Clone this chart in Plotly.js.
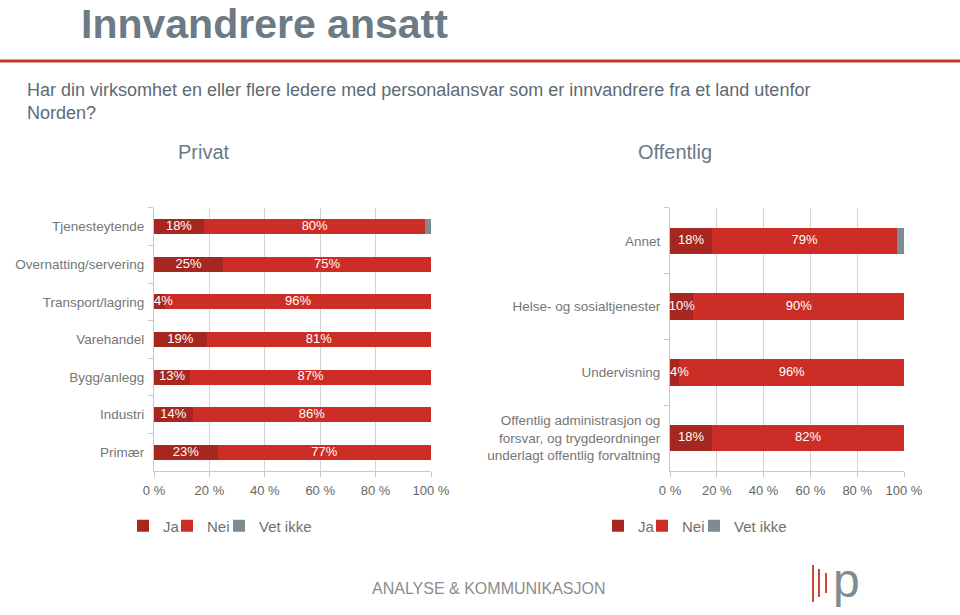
<!DOCTYPE html>
<html>
<head>
<meta charset="utf-8">
<script src="https://cdn.plot.ly/plotly-3.0.1.min.js"></script>
<style>html,body{margin:0;padding:0;background:#fff;}#chart{width:960px;height:615px;}</style>
</head>
<body>
<div id="chart"></div>
<script>
// ---- data ----
var privatCats = ['Tjenesteytende','Overnatting/servering','Transport/lagring','Varehandel','Bygg/anlegg','Industri','Primær'];
var privatJa  = [18,25,4,19,13,14,23];
var privatNei = [80,75,96,81,87,86,77];
var privatVet = [2,0,0,0,0,0,0];

var offCats = ['Annet','Helse- og sosialtjenester','Undervisning','Offentlig administrasjon og<br>forsvar, og trygdeordninger<br>underlagt offentlig forvaltning'];
var offJa  = [18,10,4,18];
var offNei = [79,90,96,82];
var offVet = [3,0,0,0];

var seriesNames = ['Ja','Nei','Vet ikke'];
var xTickVals = [0,20,40,60,80,100];
var xTickText = ['0 %','20 %','40 %','60 %','80 %','100 %'];

// ---- styles ----
var colors = ['#a6271f','#cc2d26','#7f8b93'];
var FONT = 'Liberation Sans, Arial, sans-serif';
var GRAY = '#6f7b84';
var legendIdsLeft  = ['legend','legend2','legend3'];
var legendIdsRight = ['legend4','legend5','legend6'];
var legendXLeft  = [123,167,219];
var legendXRight = [598,642,694];

function pctText(arr){ return arr.map(function(v){ return v+'%'; }); }

function mkTraces(cats, ja, nei, vet, xa, ya, legs){
  var vals = [ja, nei, vet];
  var bars = vals.map(function(v,i){
    return {
      type:'bar', orientation:'h', name:seriesNames[i],
      y:cats, x:v, xaxis:xa, yaxis:ya, legend:legs[i], showlegend:true,
      marker:{color:colors[i]},
      width:0.4,
      hoverinfo:'x+y+name'
    };
  });
  // value labels (centred in their segment; a tiny "Ja" segment gets its label just right of the axis)
  var jaX = ja.map(function(v){ return v >= 6 ? v/2 : 0; });
  var jaPos = ja.map(function(v){ return v >= 6 ? 'middle center' : 'middle right'; });
  var neiX = nei.map(function(v,k){ return ja[k] + v/2; });
  var lblFont = {color:'#ffffff', size:13, family:FONT};
  bars.push({type:'scatter', mode:'text', x:jaX, y:cats, text:pctText(ja), textposition:jaPos,
             xaxis:xa, yaxis:ya, textfont:lblFont, cliponaxis:false, showlegend:false, hoverinfo:'skip'});
  bars.push({type:'scatter', mode:'text', x:neiX, y:cats, text:pctText(nei), textposition:'middle center',
             xaxis:xa, yaxis:ya, textfont:lblFont, cliponaxis:false, showlegend:false, hoverinfo:'skip'});
  return bars;
}

var data = [].concat(
  mkTraces(privatCats, privatJa, privatNei, privatVet, 'x', 'y', legendIdsLeft),
  mkTraces(offCats, offJa, offNei, offVet, 'x2', 'y2', legendIdsRight)
);

function xaxisDef(domain, anchor){
  return {
    domain:domain, anchor:anchor, range:[0,100], fixedrange:true,
    tickvals:xTickVals, ticktext:xTickText,
    showgrid:true, gridcolor:'#d4d4d4', gridwidth:1,
    showline:true, linecolor:'#c8c8c8', linewidth:1,
    ticks:'outside', ticklen:5, tickcolor:'#c8c8c8',
    ticklabelstandoff:2,
    tickfont:{size:13, color:'#666666', family:FONT},
    zeroline:false
  };
}
function yaxisDef(n, anchor){
  return {
    domain:[0.234,0.662], anchor:anchor,
    range:[n-0.5,-0.5], type:'category',
    showline:true, linecolor:'#c8c8c8', linewidth:1,
    ticks:'outside', ticklen:5, tickcolor:'#c8c8c8', tickson:'boundaries',
    tickfont:{size:13.5, color:'#767676', family:FONT},
    ticklabelstandoff:6,
    showgrid:false, zeroline:false
  };
}
function legendDef(px){
  return {orientation:'h', x:px/960, y:(615-526)/615, xanchor:'left', yanchor:'middle',
          font:{size:15, color:'#6f6f6f', family:FONT}, bgcolor:'rgba(0,0,0,0)',
          itemclick:false, itemdoubleclick:false};
}

var layout = {
  width:960, height:615, autosize:false,
  margin:{l:0,r:0,t:0,b:0},
  paper_bgcolor:'#ffffff', plot_bgcolor:'#ffffff',
  barmode:'stack',
  showlegend:true,
  font:{family:FONT, color:GRAY},
  xaxis: xaxisDef([154/960, 431/960], 'y'),
  yaxis: yaxisDef(privatCats.length, 'x'),
  xaxis2: xaxisDef([670/960, 904/960], 'y2'),
  yaxis2: yaxisDef(offCats.length, 'x2'),
  shapes:[
    {type:'line', xref:'paper', yref:'paper', x0:0, x1:1, y0:(615-61)/615, y1:(615-61)/615,
     line:{color:'#c0392b', width:3}},
    {type:'line', xref:'paper', yref:'paper', x0:813/960, x1:813/960, y0:(615-565)/615, y1:(615-602)/615, line:{color:'#d0453c', width:2}},
    {type:'line', xref:'paper', yref:'paper', x0:819/960, x1:819/960, y0:(615-569)/615, y1:(615-597)/615, line:{color:'#d0453c', width:2}},
    {type:'line', xref:'paper', yref:'paper', x0:826/960, x1:826/960, y0:(615-573)/615, y1:(615-593)/615, line:{color:'#d0453c', width:2}}
  ],
  annotations:[
    {xref:'paper', yref:'paper', x:80/960, y:1, xanchor:'left', yanchor:'top', borderpad:0, showarrow:false,
     text:'<b>Innvandrere ansatt</b>', font:{size:41, color:'#6b7a84', family:FONT}},
    {xref:'paper', yref:'paper', x:25/960, y:(615-78)/615, xanchor:'left', yanchor:'top', align:'left', showarrow:false,
     text:'Har din virksomhet en eller flere ledere med personalansvar som er innvandrere fra et land utenfor<br>Norden?',
     font:{size:18, color:'#5d6a73', family:FONT}},
    {xref:'paper', yref:'paper', x:204/960, y:(615-152)/615, xanchor:'center', yanchor:'middle', showarrow:false,
     text:'Privat', font:{size:20, color:'#6b7a84', family:FONT}},
    {xref:'paper', yref:'paper', x:675/960, y:(615-152)/615, xanchor:'center', yanchor:'middle', showarrow:false,
     text:'Offentlig', font:{size:20, color:'#6b7a84', family:FONT}},
    {xref:'paper', yref:'paper', x:489/960, y:(615-588)/615, xanchor:'center', yanchor:'middle', showarrow:false,
     text:'ANALYSE &amp; KOMMUNIKASJON', font:{size:16, color:'#8c8c8c', family:'Liberation Sans Narrow, Liberation Sans, sans-serif'}},
    {xref:'paper', yref:'paper', x:846/960, y:(615-580)/615, xanchor:'center', yanchor:'middle', showarrow:false,
     text:'p', font:{size:48, color:'#7f8b93', family:FONT}}
  ]
};
legendIdsLeft.forEach(function(id,i){ layout[id] = legendDef(legendXLeft[i]); });
legendIdsRight.forEach(function(id,i){ layout[id] = legendDef(legendXRight[i]); });

Plotly.newPlot('chart', data, layout, {staticPlot:true, displayModeBar:false});
</script>
</body>
</html>
